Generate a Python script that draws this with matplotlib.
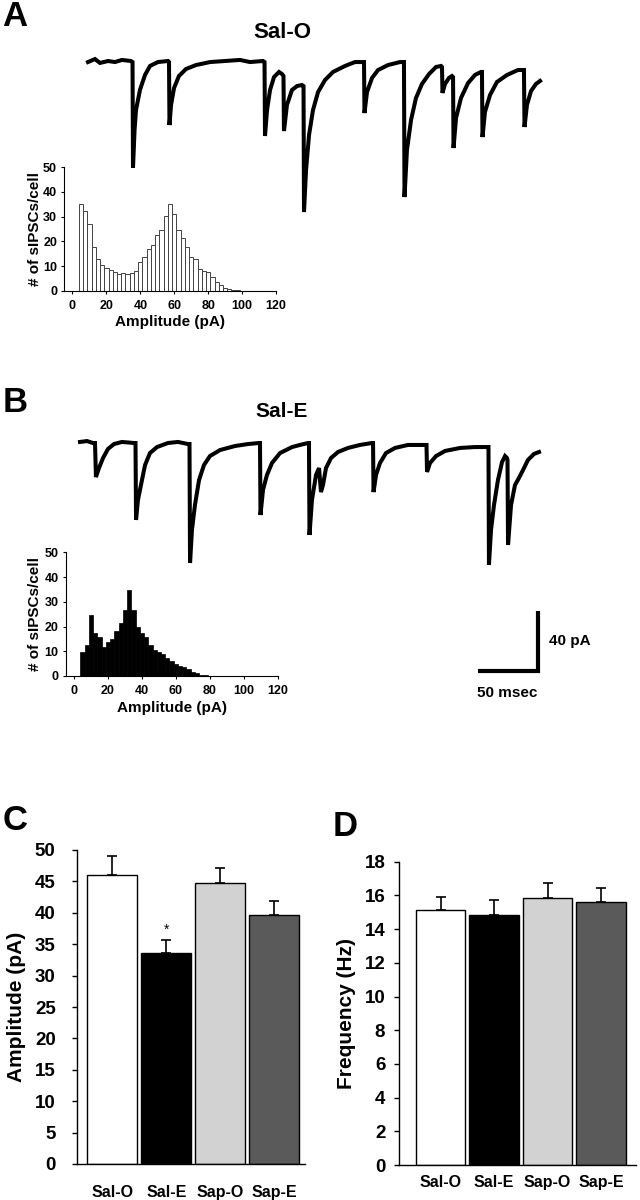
import matplotlib
matplotlib.use('Agg')
import matplotlib.pyplot as plt

plt.rcParams['font.family'] = ['Liberation Sans', 'DejaVu Sans']
plt.rcParams['font.weight'] = 'bold'
plt.rcParams['axes.labelweight'] = 'bold'

# ---------------- data ----------------
hist_bins_pA = [5, 7.5, 10, 12.5, 15, 17.5, 20, 22.5, 25, 27.5, 30, 32.5, 35, 37.5,
                40, 42.5, 45, 47.5, 50, 52.5, 55, 57.5, 60, 62.5, 65, 67.5, 70, 72.5,
                75, 77.5, 80, 82.5, 85, 87.5, 90, 92.5, 95, 97.5, 100, 102.5, 105]
hist_a_counts = [35, 32.2, 27.2, 17.6, 12.9, 10.3, 9.1, 8.4, 7.8, 6.8, 7.1, 6.7, 7.2, 8.0,
                 11.8, 13.7, 16.8, 18.5, 22.4, 24.4, 30.2, 35, 31.1, 24.4, 21.2, 17.6, 13.8, 12.9,
                 8.8, 8.0, 7.6, 5.8, 3.6, 2.4, 1.3, 0.7, 0.4, 0.3, 0.2, 0.2, 0.1]
hist_b_counts = [9.8, 12.4, 24.8, 17.5, 15.9, 11.6, 13.9, 15.0, 18.3, 21.6, 26.5, 34.8, 26.5, 19.7,
                 17.4, 15.9, 12.4, 10.5, 9.6, 9.0, 7.3, 5.9, 4.9, 3.9, 3.5, 3.0, 1.6, 1.1,
                 0.5, 0.4, 0.2, 0.2, 0.1, 0.1, 0.1, 0, 0, 0, 0, 0, 0]
hist_xticks = [0, 20, 40, 60, 80, 100, 120]
hist_yticks = [0, 10, 20, 30, 40, 50]

trace_a_ms = [0, 5.8, 10, 16.7, 22.5, 28.3, 35.8,
              37.1, 37.5, 38.8, 40, 43.3, 47.5, 51.7, 58.3, 66.7,
              67.5, 67.9, 69.2, 71.7, 75.8, 81.7, 90, 101.7, 114.2, 126.7, 135, 145.8,
              147.1, 147.5, 149.2, 151.7, 155, 159.2, 161.7,
              162.9, 163.3, 165.8, 170, 174.2, 178.3,
              179.6, 180, 181.7, 184.2, 187.5, 191.7, 197.5, 204.2, 214.2, 222.5, 229.2,
              230, 230.4, 232.5, 236.7, 241.7, 250, 260,
              263.3, 263.75, 265.8, 269.2, 273.3, 278.3, 284.2, 290, 294.2,
              295, 295.4, 297.5, 300.8, 303.3,
              304.2, 304.6, 306.7, 310.8, 316.7, 322.5, 327.5,
              328.3, 328.75, 330.8, 335, 340.8, 349.2, 358.3, 362.5,
              363.3, 363.75, 365.8, 369.2, 373.3, 376.7]
trace_a_pA = [-0.7, 1.3, -1.3, 0, -0.7, 0.7, 0,
              -0.7, -71.3, -46, -32.7, -19.3, -9.3, -3.3, -0.7, 0,
              -0.7, -42.7, -29.3, -18, -10, -5.3, -2.7, -0.7, 0, 0.7, -0.7, 0,
              -0.7, -50, -32.7, -19.3, -10.7, -7.3, -8.7,
              -10, -46.7, -29.3, -19.3, -16.7, -16,
              -16.7, -100.7, -72.7, -49.3, -32.7, -20.7, -12.7, -7.3, -3.3, -0.7, -0.7,
              -0.7, -34.7, -20.7, -11.3, -6, -2.7, -0.7,
              -0.7, -90.7, -59.3, -39.3, -24.7, -15.3, -8.7, -4, -3.3,
              -4, -21.3, -15.3, -11.3, -10,
              -10.7, -58, -38, -24.7, -14.7, -9.3, -7.3,
              -7.3, -50.7, -34, -22.7, -14, -9.3, -6, -6,
              -6, -44, -29.3, -20, -15.3, -13.3]

trace_b_ms = [0, 5.8, 10.8,
              12.5, 13.3, 15.8, 19.2, 23.3, 28.3, 35, 45,
              46.25, 46.7, 48.3, 50.8, 54.2, 58.3, 64.2, 73.3, 81.7, 90,
              91.25, 91.7, 93.3, 95.8, 99.2, 103.3, 108.3, 116.7, 129.2, 140, 149.2,
              150, 150.4, 152.5, 155.8, 160, 166.7, 176.7, 183.3, 190,
              190.8, 191.25, 193.3, 196.7, 199.2, 200.8, 202.5, 205, 209.2, 215, 223.3, 233.3, 243.3,
              244.2, 244.6, 246.7, 250, 255, 262.5, 273.3, 287.5,
              288.75, 289.2, 291.7, 296.7, 304.2, 316.7, 329.2, 340,
              340.4, 340.8, 342.5, 345, 348.3, 351.7, 354.2, 355.8,
              356.25, 356.7, 359.2, 362.5, 365.8, 369.2, 373.3, 378.3, 382.5]
trace_b_pA = [0.7, 1.3, 0,
              0, -22.7, -16.7, -10, -4, -0.7, 0.7, 0,
              0, -51.3, -38, -28, -14.7, -6.7, -2.7, 0, 0.7, -0.7,
              -0.7, -80, -58, -41.3, -24.7, -14.7, -8.7, -4.7, -2, -0.7, 0,
              0, -48, -31.3, -21.3, -13.3, -6.7, -2.7, -1.3, 0,
              0, -61.3, -38, -21.3, -16.7, -32.7, -28, -16.7, -10, -6, -3.3, -1.3, 0,
              0, -32.7, -21.3, -13.3, -6.7, -3.3, -1.3, -1.3,
              -1.3, -19.3, -13.3, -8.7, -5.3, -3.3, -2.7, -2.7,
              -2.7, -81.3, -58, -41.3, -24.7, -12.7, -8.7, -10,
              -11.3, -68, -41.3, -28, -23.3, -18, -11.3, -7.3, -6]

scale_ms = 50
scale_pA = 40

groups = ['Sal-O', 'Sal-E', 'Sap-O', 'Sap-E']
bar_colors = ['#ffffff', '#000000', '#d2d2d2', '#5a5a5a']
amp_mean = [46.0, 33.55, 44.75, 39.65]
amp_sem = [3.1, 2.1, 2.35, 2.25]
freq_mean = [15.13, 14.83, 15.86, 15.6]
freq_sem = [0.75, 0.89, 0.89, 0.82]

W, H = 640, 1200
fig = plt.figure(figsize=(6.4, 12), dpi=100)


def px_axes(left, top, right, bottom):
    return fig.add_axes([left / W, 1 - bottom / H, (right - left) / W, (bottom - top) / H])


def ftext(x, y, s, **kw):
    fig.text(x / W, 1 - y / H, s, **kw)


# ---------------- traces ----------------
axA = px_axes(80, 50, 560, 220)
axA.plot(trace_a_ms, trace_a_pA, color='black', lw=2.9, solid_joinstyle='miter')
axA.set_xlim(-6.667, 393.33)
axA.set_ylim(-106, 7.333)
axA.axis('off')
axA.patch.set_alpha(0)

axB = px_axes(70, 430, 560, 680)
axB.plot(trace_b_ms, trace_b_pA, color='black', lw=2.9, solid_joinstyle='miter')
axB.set_xlim(-8.333, 400)
axB.set_ylim(-158, 8.667)
axB.axis('off')
axB.patch.set_alpha(0)
sx0, sy0 = 331.7, -152
axB.plot([sx0, sx0 + scale_ms, sx0 + scale_ms], [sy0, sy0, sy0 + scale_pA],
         color='black', lw=3, solid_capstyle='butt', solid_joinstyle='miter')
ftext(549, 641, f'{scale_pA} pA', ha='left', va='center', fontsize=11, fontweight='bold')
ftext(507, 693, f'{scale_ms} msec', ha='center', va='center', fontsize=11, fontweight='bold')

# ---------------- histograms ----------------
def hist_axes(rect_px, counts, face, edge, elw):
    ax = px_axes(*rect_px)
    ax.bar(hist_bins_pA, counts, width=2.5, color=face, edgecolor=edge, linewidth=elw, zorder=2)
    ax.set_xlim(-5, 120)
    ax.set_ylim(0, 50)
    ax.set_xticks(hist_xticks)
    ax.set_yticks(hist_yticks)
    for s in ['top', 'right']:
        ax.spines[s].set_visible(False)
    for s in ['left', 'bottom']:
        ax.spines[s].set_linewidth(0.8)
    ax.tick_params(direction='out', length=2.5, width=0.8, labelsize=9, pad=2.5)
    ax.tick_params(axis='x', pad=4)
    ax.patch.set_alpha(0)
    for lab in ax.get_xticklabels() + ax.get_yticklabels():
        lab.set_fontweight('bold')
    ax.set_ylabel('# of sIPSCs/cell', fontsize=11, fontweight='bold', va='center')
    ax.set_xlabel('Amplitude (pA)', fontsize=11, fontweight='bold', va='center')
    return ax

hA = hist_axes((64, 167, 276, 291), hist_a_counts, 'white', '#444444', 0.7)
hA.yaxis.set_label_coords(-0.137, 0.5)
hA.xaxis.set_label_coords(0.5, -0.25)
hB = hist_axes((65.5, 552.3, 277.7, 676), hist_b_counts, 'black', 'black', 0.5)
hB.yaxis.set_label_coords(-0.144, 0.5)
hB.xaxis.set_label_coords(0.5, -0.26)

# ---------------- bar charts ----------------
def bar_axes(rect_px, means, sems, ylim, yticks, ylabel, xlim, ypad, xpad, labx):
    ax = px_axes(*rect_px)
    x = list(range(len(groups)))
    ax.bar(x, means, width=0.925, color=bar_colors, edgecolor='black', linewidth=1.0, zorder=2)
    ax.errorbar(x, means, yerr=[[0] * len(sems), sems], fmt='none', ecolor='black',
                elinewidth=1.2, capsize=3.8, capthick=1.2, zorder=3)
    ax.set_xlim(*xlim)
    ax.set_ylim(*ylim)
    ax.set_yticks(yticks)
    ax.set_xticks(x)
    ax.set_xticklabels(groups)
    for s in ['top', 'right']:
        ax.spines[s].set_visible(False)
    for s in ['left', 'bottom']:
        ax.spines[s].set_linewidth(1.0)
    ax.tick_params(axis='y', direction='out', length=3.6, width=1.0, labelsize=13.5, pad=ypad)
    ax.tick_params(axis='x', length=0, labelsize=11.5, pad=xpad)
    for lab in ax.get_xticklabels() + ax.get_yticklabels():
        lab.set_fontweight('bold')
    ax.set_ylabel(ylabel, fontsize=15, fontweight='bold', va='center')
    ax.yaxis.set_label_coords(labx, 0.5)
    return ax

axC = bar_axes((77.3, 850, 305, 1164), amp_mean, amp_sem, (0, 50), list(range(0, 51, 5)),
               'Amplitude (pA)', (-0.65, 3.57), 12, 15, -0.269)
axC.text(1, amp_mean[1] + amp_sem[1] + 0.6, '*', ha='center', va='bottom',
         fontsize=10, fontweight='normal')
axD = bar_axes((399.3, 861.7, 636, 1165), freq_mean, freq_sem, (0, 18), list(range(0, 19, 2)),
               'Frequency (Hz)', (-0.77, 3.65), 6.5, 7, -0.225)

# ---------------- panel letters and titles ----------------
ftext(15, 16, 'A', ha='center', va='center', fontsize=25, fontweight='bold')
ftext(15, 403, 'B', ha='center', va='center', fontsize=25, fontweight='bold')
ftext(15, 820, 'C', ha='center', va='center', fontsize=25, fontweight='bold')
ftext(345, 826, 'D', ha='center', va='center', fontsize=25, fontweight='bold')
ftext(282, 33, 'Sal-O', ha='center', va='center', fontsize=16, fontweight='bold')
ftext(282, 412, 'Sal-E', ha='center', va='center', fontsize=15, fontweight='bold')

fig.savefig('out.png', dpi=100)
